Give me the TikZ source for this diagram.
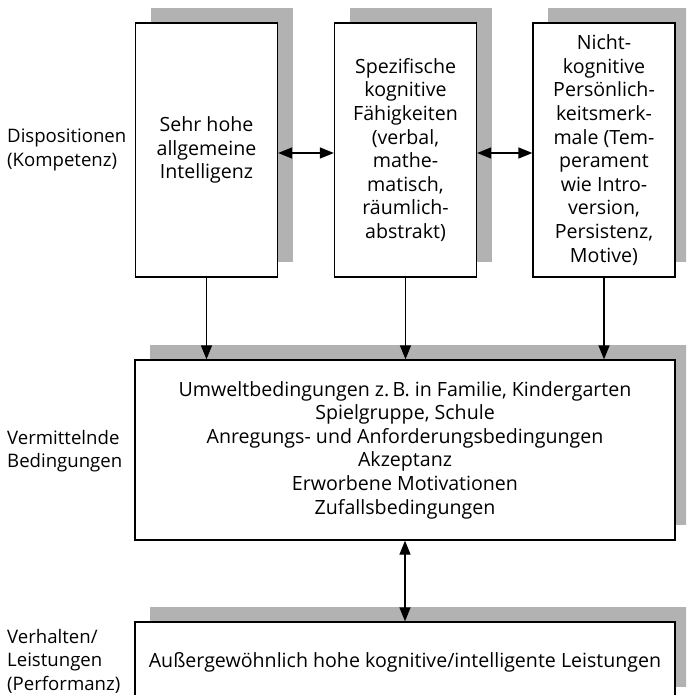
\documentclass[tikz,border=0pt]{standalone}
\usepackage{fontspec}
\setmainfont{Open Sans}
\usetikzlibrary{arrows.meta,shadows}
\definecolor{shadowgray}{gray}{0.7}
\tikzset{
  box/.style={draw, line width=1.3pt, fill=white, align=center, inner sep=0pt,
    general shadow={fill=shadowgray, shadow xshift=15pt, shadow yshift=15pt}},
  topbox/.style={box, minimum width=142pt, minimum height=254pt},
  widebox/.style={box, minimum width=540pt},
  sidelabel/.style={anchor=west, align=left, inner sep=0pt,
    font=\fontsize{18.6}{23.6}\selectfont},
  link/.style={line width=1.3pt, -{Triangle[length=14pt,width=11pt]}},
  twoway/.style={line width=1.3pt,
    {Triangle[length=14pt,width=11pt]}-{Triangle[length=14pt,width=11pt]}},
}
\begin{document}
\begin{tikzpicture}[x=1pt, y=-1pt, font=\fontsize{19.6}{23.6}\selectfont]
  \useasboundingbox (0,0) rectangle (686,695);
  \clip (0,0) rectangle (686,695);
  % dispositions
  \node[topbox] (intel) at (206.5,150) {Sehr hohe\\allgemeine\\Intelligenz};
  \node[topbox] (spez) at (405.5,150) {Spezifische\\kognitive\\F\"ahigkeiten\\(verbal,\\mathe-\\matisch,\\r\"aumlich-\\abstrakt)};
  \node[topbox] (pers) at (604,150) {Nicht-\\kognitive\\Pers\"onlich-\\keitsmerk-\\male (Tem-\\perament\\wie Intro-\\version,\\Persistenz,\\Motive)};
  % mediating conditions
  \node[widebox, minimum height=180pt] (umwelt) at (405,450)
    {Umweltbedingungen z.\,B. in Familie, Kindergarten\\Spielgruppe, Schule\\Anregungs- und Anforderungsbedingungen\\Akzeptanz\\Erworbene Motivationen\\Zufallsbedingungen};
  % performance
  \node[widebox, minimum height=80pt] (leist) at (405,662)
    {Au\ss ergew\"ohnlich hohe kognitive/intelligente Leistungen};
  \node[sidelabel] (kompetenz) at (7,150) {Dispositionen\\(Kompetenz)};
  \node[sidelabel] (vermittelnd) at (7,451) {Vermittelnde\\Bedingungen};
  \node[sidelabel] (performanz) at (7,661) {Verhalten/\\Leistungen\\(Performanz)};
  \draw[twoway] ([yshift=-3pt]intel.east) -- ([yshift=-3pt]spez.west);
  \draw[twoway] ([yshift=-3pt]spez.east) -- ([yshift=-3pt]pers.west);
  \draw[link] (intel.south) -- (intel.south |- umwelt.north);
  \draw[link] (spez.south) -- (spez.south |- umwelt.north);
  \draw[link] (pers.south) -- (pers.south |- umwelt.north);
  \draw[twoway] (umwelt.south) -- (leist.north);
\end{tikzpicture}
\end{document}
